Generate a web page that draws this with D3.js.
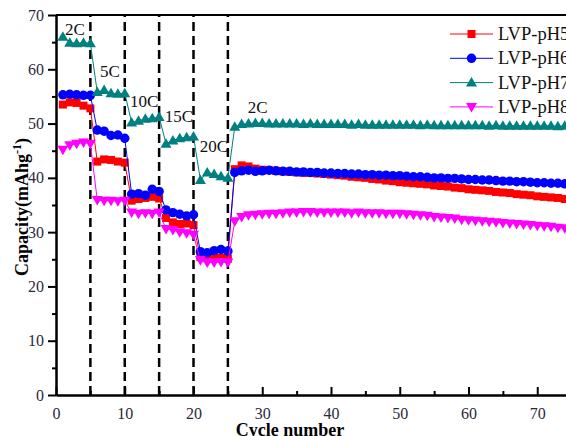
<!DOCTYPE html>
<html>
<head>
<meta charset="utf-8">
<script src="https://cdn.jsdelivr.net/npm/d3@7"></script>
<style>
  body { margin: 0; background: #fff; }
  svg { display: block; }
</style>
</head>
<body>
<div id="chart"></div>
<script>
// capacity values, cycle 1..76
var cycles = d3.range(1, 77)

var pH5 = [53.5, 53.9, 53.8, 53.3, 52.8,
  43.0, 43.4, 43.3, 43.0, 42.8,
  35.8, 36.1, 36.3, 36.5, 36.2,
  32.6, 31.8, 31.5, 31.6, 31.3,
  25.4, 25.2, 25.4, 25.3, 25.1,
  41.6, 42.3, 42.1, 41.7, 41.5, 41.4, 41.3, 41.2, 41.1, 41.0,
  40.9, 40.9, 40.8, 40.7, 40.6, 40.5, 40.4, 40.2, 40.1, 40.0,
  39.8, 39.7, 39.5, 39.4, 39.2, 39.1, 39.0, 38.9, 38.8, 38.6,
  38.5, 38.4, 38.2, 38.1, 37.9, 37.8, 37.7, 37.6, 37.4, 37.3,
  37.2, 37.0, 36.9, 36.8, 36.6, 36.5, 36.4, 36.3, 36.1, 36.0, 35.9]

var pH6 = [55.3, 55.4, 55.3, 55.2, 55.2,
  48.8, 48.6, 47.8, 47.9, 47.3,
  37.0, 37.1, 36.8, 37.9, 37.5,
  34.1, 33.6, 33.3, 33.0, 33.2,
  26.4, 26.2, 26.6, 26.8, 26.5,
  41.0, 41.3, 41.4, 41.2, 41.3, 41.4, 41.3, 41.2, 41.2, 41.1,
  41.1, 41.0, 41.0, 40.9, 40.9, 40.8, 40.8, 40.7, 40.7, 40.6,
  40.6, 40.5, 40.5, 40.4, 40.4, 40.3, 40.2, 40.2, 40.1, 40.0,
  40.0, 39.9, 39.9, 39.8, 39.7, 39.7, 39.6, 39.6, 39.5, 39.4,
  39.4, 39.3, 39.3, 39.2, 39.1, 39.1, 39.0, 39.0, 38.9, 38.8, 38.8]

var pH7 = [66.0, 64.9, 64.8, 64.9, 64.8,
  55.8, 56.2, 55.6, 55.5, 55.6,
  50.2, 50.5, 50.9, 51.0, 51.2,
  46.3, 46.9, 47.3, 47.5, 47.6,
  39.6, 41.0, 40.7, 40.3, 40.0,
  49.4, 49.9, 50.0, 50.1, 50.1, 50.0, 50.0, 50.0, 50.0, 50.0,
  49.9, 50.0, 49.9, 49.9, 49.9, 49.9, 49.9, 49.8, 49.9, 49.8,
  49.8, 49.8, 49.8, 49.8, 49.8, 49.8, 49.8, 49.7, 49.8, 49.7,
  49.7, 49.7, 49.7, 49.7, 49.7, 49.7, 49.7, 49.6, 49.7, 49.6,
  49.6, 49.6, 49.6, 49.6, 49.6, 49.6, 49.6, 49.5, 49.6, 49.5, 49.5]

var pH8 = [45.2, 46.0, 46.3, 46.5, 46.3,
  35.9, 35.8, 35.8, 35.7, 35.8,
  33.6, 33.4, 33.5, 33.4, 33.6,
  30.6, 30.4, 30.0, 29.8, 29.5,
  24.8, 24.4, 24.4, 24.5, 24.4,
  32.0, 32.8, 33.1, 33.2, 33.3, 33.4, 33.4, 33.5, 33.6, 33.6,
  33.7, 33.7, 33.6, 33.6, 33.6, 33.6, 33.6, 33.5, 33.6, 33.5,
  33.5, 33.5, 33.4, 33.4, 33.4, 33.3, 33.2, 33.1, 33.0, 32.8,
  32.7, 32.6, 32.5, 32.3, 32.2, 32.1, 32.0, 31.9, 31.8, 31.7,
  31.6, 31.5, 31.4, 31.3, 31.2, 31.1, 31.0, 30.8, 30.7, 30.6, 30.5]

var seriesNames = ["LVP-pH5", "LVP-pH6", "LVP-pH7", "LVP-pH8"]
var seriesColors = ["#ff0000", "#0000ff", "#008080", "#ff00ff"]
var seriesShapes = ["square", "circle", "up", "down"]

var rateBreaks = [5, 10, 15, 20, 25]
var rateLabels = ["2C", "5C", "10C", "15C", "20C", "2C"]
// label anchor (cycle, capacity) for each rate text
var rateLabelX = [1.3, 6.4, 10.75, 15.8, 20.9, 27.9]
var rateLabelY = [66.3, 58.6, 53.0, 50.3, 44.7, 51.9]

var xTicks = [0, 10, 20, 30, 40, 50, 60, 70, 80]
var xMinor = [5, 15, 25, 35, 45, 55, 65, 75]
var yTicks = [0, 10, 20, 30, 40, 50, 60, 70]
var yMinor = [5, 15, 25, 35, 45, 55, 65]

var width = 566, height = 436
var margin = {left: 56, top: 15}
var plotW = 550, plotH = 380

var svg = d3.select("#chart").append("svg")
  .attr("width", width)
  .attr("height", height)

var x = d3.scaleLinear().domain([0, 80]).range([margin.left, margin.left + plotW])
var y = d3.scaleLinear().domain([0, 70]).range([margin.top + plotH, margin.top])

var font = "'Liberation Serif', 'Times New Roman', serif"

// dashed separators between rates
svg.selectAll(".sep")
  .data(rateBreaks)
  .enter()
  .append("line")
    .attr("x1", function(d) { return x(d) })
    .attr("x2", function(d) { return x(d) })
    .attr("y1", y(0))
    .attr("y2", y(70))
    .attr("stroke", "#000")
    .attr("stroke-width", 2.5)
    .attr("stroke-dasharray", "9,5")

// series
var allSeries = [pH5, pH6, pH7, pH8]
var line = d3.line()
  .x(function(d) { return x(d[0]) })
  .y(function(d) { return y(d[1]) })

function markerPath(shape) {
  if (shape == "square") return d3.symbol().type(d3.symbolSquare).size(64)()
  if (shape == "circle") return d3.symbol().type(d3.symbolCircle).size(70)()
  if (shape == "up") return "M0,-5.5L5.5,4L-5.5,4Z"
  return "M0,5.5L5.5,-4L-5.5,-4Z"
}

allSeries.forEach(function(vals, i) {
  var pts = cycles.map(function(c, j) { return [c, vals[j]] })
  svg.append("path")
    .datum(pts)
    .attr("d", line)
    .attr("fill", "none")
    .attr("stroke", seriesColors[i])
    .attr("stroke-width", 1)
  svg.selectAll(".m" + i)
    .data(pts)
    .enter()
    .append("path")
      .attr("d", markerPath(seriesShapes[i]))
      .attr("transform", function(d) { return "translate(" + x(d[0]) + "," + y(d[1]) + ")" })
      .attr("fill", seriesColors[i])
})

// rate labels
svg.selectAll(".rate")
  .data(rateLabels)
  .enter()
  .append("text")
    .attr("x", function(d, i) { return x(rateLabelX[i]) })
    .attr("y", function(d, i) { return y(rateLabelY[i]) })
    .style("font-family", font)
    .style("font-size", "17px")
    .attr("fill", "#111")
    .text(function(d) { return d })

// axes
svg.append("g")
  .attr("transform", "translate(0," + y(0) + ")")
  .call(d3.axisBottom(x).tickValues(xTicks).tickSizeInner(-8).tickSizeOuter(0).tickPadding(13))
svg.append("g")
  .attr("transform", "translate(0," + y(0) + ")")
  .call(d3.axisBottom(x).tickValues(xMinor).tickSizeInner(-4).tickSizeOuter(0).tickFormat(""))

svg.append("g")
  .attr("transform", "translate(" + x(0) + ",0)")
  .call(d3.axisLeft(y).tickValues(yTicks).tickSizeInner(8).tickSizeOuter(0).tickPadding(4))
svg.append("g")
  .attr("transform", "translate(" + x(0) + ",0)")
  .call(d3.axisLeft(y).tickValues(yMinor).tickSizeInner(4).tickSizeOuter(0).tickFormat(""))

svg.selectAll(".domain").attr("stroke", "#000").attr("stroke-width", 2)
svg.selectAll(".tick line").attr("stroke", "#000").attr("stroke-width", 2)
svg.selectAll(".tick text")
  .style("font-family", font)
  .style("font-size", "16px")
  .attr("fill", "#2a2a3a")

// top frame line
svg.append("line")
  .attr("x1", x(0)).attr("x2", x(80))
  .attr("y1", y(70)).attr("y2", y(70))
  .attr("stroke", "#000").attr("stroke-width", 2)

// axis titles
svg.append("text")
  .attr("x", 290)
  .attr("y", 436)
  .attr("text-anchor", "middle")
  .style("font-family", font)
  .style("font-size", "18px")
  .style("font-weight", "bold")
  .text("Cycle number")

var yt = svg.append("text")
  .attr("transform", "translate(28," + 207 + ") rotate(-90)")
  .attr("text-anchor", "middle")
  .style("font-family", font)
  .style("font-size", "18px")
  .style("font-weight", "bold")
yt.append("tspan").text("Capacity(mAhg")
yt.append("tspan").attr("dy", -7).style("font-size", "12px").text("-1")
yt.append("tspan").attr("dy", 7).text(")")

// legend
var legend = svg.selectAll(".leg")
  .data(seriesNames)
  .enter()
  .append("g")
    .attr("transform", function(d, i) { return "translate(450," + (34 + i * 24.3) + ")" })
legend.append("line")
  .attr("x1", 0).attr("x2", 43)
  .attr("stroke", function(d, i) { return seriesColors[i] })
  .attr("stroke-width", 1)
legend.append("path")
  .attr("d", function(d, i) { return markerPath(seriesShapes[i]) })
  .attr("transform", "translate(21.5,0)")
  .attr("fill", function(d, i) { return seriesColors[i] })
legend.append("text")
  .attr("x", 48)
  .attr("y", 6)
  .style("font-family", font)
  .style("font-size", "18.5px")
  .attr("fill", "#111")
  .text(function(d) { return d })
</script>
</body>
</html>
